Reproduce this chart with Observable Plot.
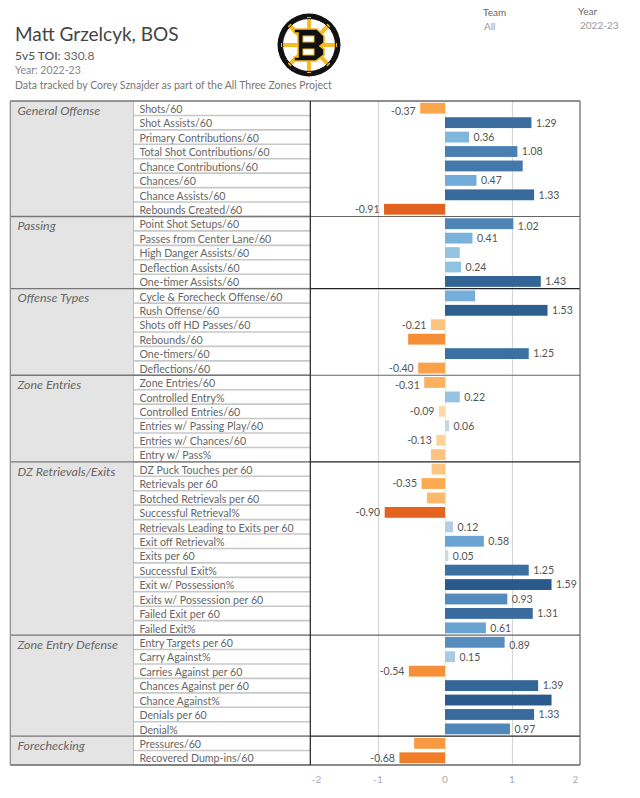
<!DOCTYPE html>
<html><head><meta charset="utf-8">
<script src="https://cdn.jsdelivr.net/npm/d3@7"></script>
<script src="https://cdn.jsdelivr.net/npm/@observablehq/plot@0.6"></script>
<style>
html,body{margin:0;padding:0;background:#fff;width:640px;height:798px;overflow:hidden}
body{font-family:Lato,sans-serif;color:#555}
#head{position:relative;width:640px;height:96px}
#head div{position:absolute;white-space:nowrap;transform:translateY(-50%)}
#head svg{position:absolute;left:277px;top:13px}
#chart svg{display:block}
</style></head><body>
<div id="head"></div>
<div id="chart"></div>
<script>
const playerTitle = "Matt Grzelcyk, BOS";
const toi = "330.8";
const yearText = "2022-23";
const creditText = "Data tracked by Corey Sznajder as part of the All Three Zones Project";

const groupNames = ["General Offense","Passing","Offense Types","Zone Entries","DZ Retrievals/Exits","Zone Entry Defense","Forechecking"];
const groupCounts = [8,5,6,6,12,7,2];
const metrics = [
"Shots/60","Shot Assists/60","Primary Contributions/60","Total Shot Contributions/60","Chance Contributions/60","Chances/60","Chance Assists/60","Rebounds Created/60",
"Point Shot Setups/60","Passes from Center Lane/60","High Danger Assists/60","Deflection Assists/60","One-timer Assists/60",
"Cycle & Forecheck Offense/60","Rush Offense/60","Shots off HD Passes/60","Rebounds/60","One-timers/60","Deflections/60",
"Zone Entries/60","Controlled Entry%","Controlled Entries/60","Entries w/ Passing Play/60","Entries w/ Chances/60","Entry w/ Pass%",
"DZ Puck Touches per 60","Retrievals per 60","Botched Retrievals per 60","Successful Retrieval%","Retrievals Leading to Exits per 60","Exit off Retrieval%","Exits per 60","Successful Exit%","Exit w/ Possession%","Exits w/ Possession per 60","Failed Exit per 60","Failed Exit%",
"Entry Targets per 60","Carry Against%","Carries Against per 60","Chances Against per 60","Chance Against%","Denials per 60","Denial%",
"Pressures/60","Recovered Dump-ins/60"];
const values = [
-0.37,1.29,0.36,1.08,1.16,0.47,1.33,-0.91,
1.02,0.41,0.22,0.24,1.43,
0.45,1.53,-0.21,-0.55,1.25,-0.40,
-0.31,0.22,-0.09,0.06,-0.13,-0.21,
-0.20,-0.35,-0.27,-0.90,0.12,0.58,0.05,1.25,1.59,0.93,1.31,0.61,
0.89,0.15,-0.54,1.39,1.59,1.33,0.97,
-0.46,-0.68];
// Metrics whose value label the reference leaves out
const unlabeled = ["Chance Contributions/60","High Danger Assists/60","Cycle & Forecheck Offense/60","Rebounds/60","Entry w/ Pass%","DZ Puck Touches per 60","Botched Retrievals per 60","Chance Against%","Pressures/60"];
// Metrics whose value label sits a little below its bar in the reference
const lowered = ["Shots/60","Point Shot Setups/60","Entry Targets per 60","Zone Entries/60"];
const gridTicks = [-1,1];
const xTicksInner = [-1,0,1];
const colorStops = [-0.91,-0.68,-0.37,-0.09,0,0.06,0.2,0.47,1.02,1.29,1.59];
const colorRange = ["#e2621f","#f17d28","#fba64c","#fdd9a6","#f0eee8","#c6d5e3","#97c6e3","#72acd9","#4f84b6","#3a6c9f","#295a8b"];

const rows = metrics.map((m,i)=>({metric:m,value:values[i]}));
const firsts = []; const ends = [];
{let k=0; groupCounts.forEach(c=>{firsts.push(metrics[k]); ends.push(metrics[k+c-1]); k+=c;});}
const groups = groupNames.map((g,i)=>({name:g,first:firsts[i],last:ends[i]}));

// header
const head = document.getElementById("head");
const hText = (x,y,size,color,html)=>{const d=document.createElement("div");d.style.cssText=`left:${x}px;top:${y}px;font-size:${size}px;color:${color}`;d.innerHTML=html;head.appendChild(d);};
hText(15,33,19,"#444",playerTitle);
hText(15,54.5,12,"#666",`<b style="font-weight:500;color:#555">5v5 TOI:</b> ${toi}`);
hText(15,70,10.5,"#888","Year: "+yearText);
hText(15,85,10.5,"#777",creditText);
hText(483,12,10,"#666","Team");
hText(484,26,10,"#999","All");
hText(578,11,10,"#666","Year");
hText(580,25,10,"#999",yearText);
const spokes = d3.range(8).map(i=>`<rect x="-1.9" y="-28" width="3.8" height="56" fill="#f5b922" transform="rotate(${i*45})"/>`).join("");
head.insertAdjacentHTML("beforeend",`<svg width="64" height="64" viewBox="-32 -32 64 64" role="img" aria-label="Boston Bruins logo">
<circle r="31.5" fill="#111"/><circle r="26.5" fill="#fff"/>${spokes}<circle r="26.5" fill="none" stroke="#111" stroke-width="1"/>
<path d="M-15,-16H8L15,-9V-2L11,1L15,4V10L7,16H-15V12H-11V-12H-15Z" fill="#111" stroke="#f5b922" stroke-width="1.6"/>
<rect x="-6" y="-9" width="11" height="6" fill="#fff" stroke="#f5b922"/><rect x="-6" y="4" width="11" height="6" fill="#fff" stroke="#f5b922"/></svg>`);

// Table behind the bars: positions come from the y scale
const tableLeft=10.3, labelLeft=133.5, panelLeft=310.3, panelRight=580;
function tableMark(index, scales){
  const y=scales.y, h=y.bandwidth();
  const g=d3.create("svg:g");
  groups.forEach(d=>{
    g.append("rect").attr("x",tableLeft).attr("width",labelLeft-tableLeft)
     .attr("y",y(d.first)).attr("height",y(d.last)+h-y(d.first)).attr("fill","#e4e4e4");
  });
  metrics.forEach(m=>{
    g.append("line").attr("x1",labelLeft).attr("x2",panelLeft)
     .attr("y1",y(m)+h).attr("y2",y(m)+h).attr("stroke","#c8c8c8").attr("stroke-width",1.6);
  });
  g.append("line").attr("x1",labelLeft).attr("x2",labelLeft).attr("y1",y(metrics[0])).attr("y2",y(metrics[metrics.length-1])+h).attr("stroke","#bdbdbd").attr("stroke-width",1);
  return g.node();
}
function frameMark(index, scales){
  const y=scales.y, h=y.bandwidth();
  const g=d3.create("svg:g").attr("fill","none");
  const top=y(metrics[0]), bot=y(metrics[metrics.length-1])+h;
  groups.forEach((d,i)=>{
    const yy=y(d.first);
    g.append("line").attr("x1",tableLeft).attr("x2",panelLeft).attr("y1",yy).attr("y2",yy).attr("stroke","#777").attr("stroke-width",1.4);
    g.append("line").attr("x1",panelLeft).attr("x2",panelRight).attr("y1",yy).attr("y2",yy).attr("stroke",i%2?"#666":"#222").attr("stroke-width",1.2);
  });
  g.append("line").attr("x1",tableLeft).attr("x2",panelRight).attr("y1",bot).attr("y2",bot).attr("stroke","#666").attr("stroke-width",1.4);
  g.append("line").attr("x1",tableLeft).attr("x2",tableLeft).attr("y1",top).attr("y2",bot).attr("stroke","#888").attr("stroke-width",1.2);
  g.append("line").attr("x1",panelLeft).attr("x2",panelLeft).attr("y1",top).attr("y2",bot).attr("stroke","#222").attr("stroke-width",1.2);
  g.append("line").attr("x1",panelRight).attr("x2",panelRight).attr("y1",top).attr("y2",bot).attr("stroke","#666").attr("stroke-width",1.2);
  return g.node();
}

const fmt = d=>d.toFixed(2);
const labeled = rows.filter(d=>!unlabeled.includes(d.metric));
const level = labeled.filter(d=>!lowered.includes(d.metric));
const low = labeled.filter(d=>lowered.includes(d.metric));
const valueText = (data,dy)=>[
  Plot.text(data,{filter:d=>d.value>=0,x:"value",y:"metric",text:d=>fmt(d.value),textAnchor:"start",dx:4,dy,fontSize:10.5,fill:"#555"}),
  Plot.text(data,{filter:d=>d.value<0,x:"value",y:"metric",text:d=>fmt(d.value),textAnchor:"end",dx:-5,dy,fontSize:10.5,fill:"#555"})
];
const chart = Plot.plot({
  width:640, height:701,
  marginTop:5, marginBottom:32, marginLeft:310, marginRight:60,
  style:{fontFamily:"Lato, sans-serif",background:"#fff"},
  x:{domain:[-2.015,2.015],axis:null},
  y:{domain:metrics,axis:null,padding:0,round:false},
  color:{type:"linear",domain:colorStops,range:colorRange,clamp:true},
  marks:[
    tableMark,
    Plot.ruleX(gridTicks,{stroke:"#d6d6d6",strokeWidth:1.2}),
    Plot.ruleX([0],{stroke:"#e8e8e8",strokeWidth:1}),
    Plot.barX(rows,{x:"value",y:"metric",fill:"value",insetTop:1.8,insetBottom:1.8}),
    frameMark,
    valueText(level,0),
    valueText(low,2.5),
    Plot.text(rows,{y:"metric",text:"metric",frameAnchor:"left",dx:-171,dy:0.8,textAnchor:"start",fontSize:10.6,fill:"#666"}),
    Plot.text(groups,{y:"first",text:"name",frameAnchor:"left",dx:-293,dy:2,textAnchor:"start",fontSize:12.4,fontStyle:"italic",fill:"#666"}),
    Plot.text(xTicksInner,{x:d=>d,text:d=>String(d),frameAnchor:"bottom",dy:17,dx:-0.5,fontSize:10,fill:"#aaa"}),
    Plot.text([-2],{x:d=>d,text:d=>String(d),frameAnchor:"bottom",dy:17,dx:5,fontSize:10,fill:"#aaa"}),
    Plot.text([2],{x:d=>d,text:d=>String(d),frameAnchor:"bottom",dy:17,dx:-4,fontSize:10,fill:"#aaa"})
  ]
});
document.getElementById("chart").appendChild(chart);
</script>
</body></html>
